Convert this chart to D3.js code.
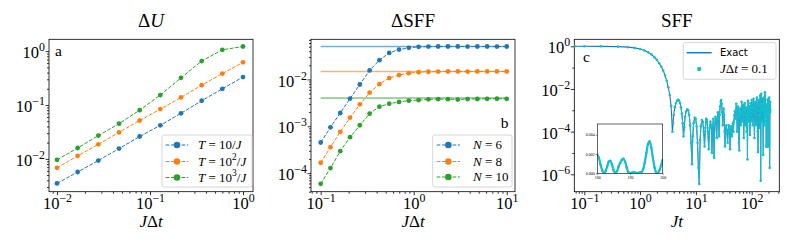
<!DOCTYPE html>
<html>
<head>
<meta charset="utf-8">
<script src="https://cdn.jsdelivr.net/npm/d3@7"></script>
<style>
	body { margin: 0; background: #fff; }
	svg { display: block; font-family: "Liberation Serif", "DejaVu Serif", serif; }
</style>
</head>
<body>
<svg id="chart"></svg>
<script>
// ---- panel a : dU vs J dt ----
const dtA = [0.01, 0.01668, 0.02783, 0.04642, 0.07743, 0.1292, 0.2154, 0.3594, 0.5995, 1.0];
const dU_T10 = [0.0035, 0.0057, 0.0093, 0.0155, 0.026, 0.042, 0.070, 0.12, 0.20, 0.33];
const dU_T100 = [0.0068, 0.0114, 0.0186, 0.031, 0.0515, 0.084, 0.138, 0.233, 0.383, 0.62];
const dU_T1000 = [0.0096, 0.0159, 0.027, 0.045, 0.080, 0.153, 0.32, 0.655, 1.06, 1.22];

// ---- panel b : dSFF vs J dt ----
const dtB = [0.1, 0.1274, 0.1624, 0.2069, 0.2637, 0.336, 0.4281, 0.5456, 0.6952, 0.8859,
	1.1288, 1.4384, 1.833, 2.336, 2.976, 3.793, 4.833, 6.158, 7.848, 10];
const dS_N6 = [4.5e-4, 9.5e-4, 1.92e-3, 3.9e-3, 7.8e-3, 0.0156, 0.0258, 0.0369, 0.0435, 0.0472,
	0.0496, 0.0503, 0.0505, 0.0505, 0.0505, 0.0504, 0.0505, 0.0505, 0.0504, 0.0505];
const dS_N8 = [1.66e-4, 3.57e-4, 7.6e-4, 1.53e-3, 2.94e-3, 5.2e-3, 7.96e-3, 0.0107, 0.0124, 0.0136,
	0.0143, 0.0146, 0.0147, 0.0148, 0.0148, 0.0147, 0.0148, 0.0148, 0.0148, 0.0148];
const dS_N10 = [5.9e-5, 1.28e-4, 2.94e-4, 5.83e-4, 1.05e-3, 1.86e-3, 2.62e-3, 3.03e-3, 3.3e-3, 3.52e-3,
	3.63e-3, 3.75e-3, 3.8e-3, 3.78e-3, 3.72e-3, 3.8e-3, 3.82e-3, 3.85e-3, 3.88e-3, 3.85e-3];
const dS_sat = [0.0505, 0.0148, 0.0040];

// ---- panel c : SFF vs Jt ----
const sffT = [0.067, 0.1, 0.2, 0.4, 0.6, 0.8, 1.0, 1.2, 1.4, 1.6, 1.8, 2.0, 2.2, 2.4, 2.6, 2.8, 3.0, 3.2, 3.4, 3.6, 3.8,
	3.9, 4.0, 4.2, 4.4, 4.6, 4.8, 5.0, 5.2, 5.4, 5.6, 5.8, 6.0, 6.2, 6.4, 6.7, 7.0, 7.3, 7.6, 7.9, 8.2, 8.5, 8.8,
	9.1, 9.5, 9.9, 10.3, 10.7, 11.1, 11.5, 11.9, 12.3, 12.8, 13.3, 13.8, 14.3, 14.8, 15.3, 15.8, 16.4, 17.0,
	17.6, 18.2, 18.8, 19.4, 20.0, 20.6, 21.2, 21.8, 22.4, 23.0, 23.6, 24.2, 24.8, 25.4, 26.0, 26.6, 27.2,
	27.8, 28.4, 29.0, 29.6, 30.2, 30.8, 31.4, 32.0, 32.6, 33.2, 33.8, 34.5, 35.2, 36, 37, 38, 39, 40, 41,
	42, 43, 44, 45, 46, 47, 48, 49, 50, 51, 52, 53, 54, 55, 56, 57, 58, 59, 60, 61, 62, 63, 64, 65, 66,
	67, 68, 69, 70, 71, 72, 73, 74, 75, 76, 77, 78, 79, 80, 81, 82, 83, 84, 85, 86, 87, 88, 89, 90, 91,
	92, 93, 94, 95, 96, 97, 98, 99, 100, 102, 104, 106, 108, 110, 112, 114, 116, 118, 120, 122, 124, 126,
	128, 130, 132, 134, 136, 138, 140, 142, 144, 145, 147, 149, 151, 153, 155, 157, 159, 161, 163, 165,
	167, 169, 171, 173, 175, 177, 178.5];
const sffV = [1.0, 0.998, 0.99, 0.96, 0.91, 0.84, 0.74, 0.63, 0.52, 0.41, 0.31, 0.23, 0.16, 0.11, 0.072, 0.043,
	0.024, 0.012, 0.0052, 0.0016, 0.0001,
	2.5e-4, 6e-4, 1.4e-3, 2.2e-3, 2.8e-3, 3.1e-3, 2.9e-3, 2.2e-3, 1.4e-3, 7e-4, 2.5e-4, 6e-5, 1.6e-4, 5e-4,
	9e-4, 1.1e-3, 1.0e-3, 6e-4, 2e-4, 3e-5, 3e-6, 6e-5, 2.5e-4, 4.5e-4, 4e-4, 1.8e-4, 3e-5, 2e-6, 3.5e-7,
	4e-5, 1.8e-4, 3.5e-4, 3e-4, 1e-4, 2e-5, 1.5e-4, 4e-4, 3.5e-4, 1e-4, 1.5e-5, 1.5e-4, 3e-4, 2e-4, 1e-5,
	2e-4, 4e-4, 6e-6, 2e-4, 5e-4, 3e-4, 5e-5, 4e-4, 8e-4, 4e-4, 6e-5, 6e-4, 1.5e-3, 2.5e-3, 3e-3, 2e-3,
	8e-4, 2e-4, 6e-4, 1.2e-3, 6e-4, 1e-4, 2e-5, 8e-5, 1.5e-4, 2e-4, 1e-4, 3e-5, 1.2e-4, 2e-4, 1.5e-4,
	1.5e-5, 1e-4, 1.8e-4, 6e-5, 1.5e-4, 2.5e-4, 1e-4, 3e-4, 6e-4, 9e-4,
	4e-4, 1e-3, 2e-3, 8e-4, 1e-4, 6e-4, 1.5e-3, 5e-4, 3e-5, 1.3e-5, 5e-4, 1.2e-3, 8e-4, 2e-4, 7e-4,
	2.5e-3, 1.5e-3, 3e-4, 8e-4, 1.8e-3, 6e-4, 5e-5, 4e-4, 1.1e-3, 2.2e-3, 9e-4, 2e-4, 6e-4, 1.4e-3,
	5e-4, 1e-4, 2e-4, 1.2e-3, 5e-6, 8e-4, 2.8e-3, 1.4e-3, 3e-4, 9e-4, 1.6e-3, 9e-4, 4e-4, 7e-5, 1e-3,
	2.2e-3, 1e-3, 6e-4, 3e-4, 1.3e-3, 3e-3,
	1.2e-3, 2e-4, 1.5e-3, 3.5e-3, 8e-4, 5e-5, 1.2e-3, 2.5e-3, 6e-4, 2e-4, 2e-3, 4e-3, 1e-3, 1e-4, 1.1e-5,
	1.5e-3, 3e-3, 6e-4, 1.5e-4, 2e-3, 5e-3, 1e-3, 5e-7, 1.2e-3, 6e-3, 2e-3, 3e-4, 1.5e-3, 3.5e-3, 1e-3,
	8e-6, 1.2e-3, 4e-3, 2e-3, 2e-4, 2.5e-3, 7e-3, 3e-3, 5e-4, 1.2e-3];
// late times, also shown in the inset (linear scale)
const insetT = [180, 180.5, 181, 181.5, 182, 182.5, 183, 183.5, 184, 184.5, 185, 185.5, 186, 186.5, 187,
	187.5, 188, 188.5, 189, 189.5, 190, 190.5, 191, 191.5, 192, 192.5, 193, 193.5, 194, 194.5, 195, 195.5,
	196, 196.5, 197, 197.5, 198, 198.5, 199, 199.5, 200];
const insetV = [0.0019, 0.0016, 0.0009, 0.0003, 0.00002, 0.0002, 0.0007, 0.0012, 0.0013, 0.0009, 0.0003,
	0.00002, 0.0002, 0.0007, 0.0011, 0.0014, 0.0015, 0.0012, 0.0006, 0.0001, 0.00002, 0.00005, 0.0001,
	0.00008, 0.00003, 0.00004, 0.0001, 0.0001, 0.0004, 0.0011, 0.0021, 0.0030, 0.0033, 0.0027, 0.0016,
	0.0006, 0.0001, 0.00002, 0.0003, 0.0008, 0.0014];
const tailT = [202, 204, 206, 208, 210, 212, 214, 216];
const tailV = [3e-4, 2e-3, 4e-3, 1.5e-3, 2e-6, 8e-4, 2.5e-3, 1e-3];

const xTickExpA = [-2, -1, 0], yTickExpA = [-2, -1, 0];
const xTickExpB = [-1, 0, 1], yTickExpB = [-4, -3, -2];
const xTickExpC = [-1, 0, 1, 2], yTickExpC = [-6, -4, -2, 0];
const insetXTicks = [180, 190, 200], insetYTicks = [0, 0.002, 0.004];

const blue = '#1f77b4', orange = '#ff7f0e', green = '#2ca02c', cyan = '#17becf';
const FS = 16.5;  // tick labels
const LFS = 13;   // legend text
const serif = '"Liberation Serif", "DejaVu Serif", serif';

let w = 789, h = 247;
let chart = d3.select('#chart').attr('width', w).attr('height', h);

// text made of plain / italic / superscript pieces
function richText(sel, parts, size) {
	let raised = false;
	parts.forEach(p => {
		let ts = sel.append('tspan').text(p.t);
		if (p.i) ts.attr('font-style', 'italic');
		if (p.sup) {
			ts.attr('font-size', size * 0.72).attr('dy', -size * 0.42);
			raised = true;
		} else if (raised) {
			ts.attr('dy', size * 0.42);
			raised = false;
		}
	});
}

function minorTicks(domain) {
	let out = [];
	let lo = Math.floor(Math.log10(domain[0])), hi = Math.ceil(Math.log10(domain[1]));
	for (let k = lo; k <= hi; k++)
		for (let m = 2; m <= 9; m++) {
			let v = m * Math.pow(10, k);
			if (v >= domain[0] && v <= domain[1]) out.push(v);
		}
	return out;
}

// replace tick text with 10^n
function supTicks(texts) {
	texts.each(function (d) {
		let t = d3.select(this).text('')
			.attr('font-family', serif).attr('font-size', FS).attr('fill', '#000');
		let e = Math.round(Math.log10(d));
		richText(t, [{ t: '10' }, { t: e < 0 ? '\u2212' + (-e) : '' + e, sup: true }], FS);
	});
}

function styleAxis(a) {
	a.select('.domain').remove();
	a.selectAll('line').attr('stroke', '#000').attr('stroke-width', 0.8);
}

// frame, log axes, title and x label for a panel
function makePanel(p) {
	let g = chart.append('g');
	let x = d3.scaleLog().domain(p.xd).range([p.l, p.r]);
	let y = d3.scaleLog().domain(p.yd).range([p.b, p.t]);

	g.append('g').attr('transform', `translate(0,${p.b})`)
		.call(d3.axisBottom(x).tickValues(p.xMinor || minorTicks(p.xd)).tickSize(2).tickFormat(''))
		.call(styleAxis);
	g.append('g').attr('transform', `translate(${p.l},0)`)
		.call(d3.axisLeft(y).tickValues(p.yMinor || minorTicks(p.yd)).tickSize(2).tickFormat(''))
		.call(styleAxis);

	let xa = g.append('g').attr('transform', `translate(0,${p.b})`)
		.call(d3.axisBottom(x).tickValues(p.xExp.map(e => Math.pow(10, e))).tickSize(3.5).tickPadding(2))
		.call(styleAxis);
	let ya = g.append('g').attr('transform', `translate(${p.l},0)`)
		.call(d3.axisLeft(y).tickValues(p.yExp.map(e => Math.pow(10, e))).tickSize(3.5).tickPadding(0.5))
		.call(styleAxis);
	[xa, ya].forEach(a => a.selectAll('.tick text').call(supTicks));
	ya.selectAll('.tick text').attr('dy', '0.4em');

	g.append('rect').attr('x', p.l).attr('y', p.t).attr('width', p.r - p.l).attr('height', p.b - p.t)
		.attr('fill', 'none').attr('stroke', '#000').attr('stroke-width', 0.8);

	let title = g.append('text').attr('x', (p.l + p.r) / 2).attr('y', 27)
		.attr('text-anchor', 'middle').attr('font-size', 19);
	richText(title, p.title, 19);
	let xl = g.append('text').attr('x', (p.l + p.r) / 2).attr('y', 227)
		.attr('text-anchor', 'middle').attr('font-size', 17);
	richText(xl, p.xlabel, 17);

	let clipId = 'clip' + p.name;
	chart.append('clipPath').attr('id', clipId).append('rect')
		.attr('x', p.l).attr('y', p.t).attr('width', p.r - p.l).attr('height', p.b - p.t);
	let plot = g.append('g').attr('clip-path', `url(#${clipId})`);
	return { g, plot, x, y };
}

function dashedSeries(P, xs, ys, color) {
	let pts = xs.map((d, i) => [d, ys[i]]);
	P.plot.append('path').datum(pts)
		.attr('d', d3.line().x(d => P.x(d[0])).y(d => P.y(d[1])))
		.attr('fill', 'none').attr('stroke', color).attr('stroke-width', 1).attr('stroke-dasharray', '3.7,1.6');
	P.plot.selectAll(null).data(pts).enter().append('circle')
		.attr('cx', d => P.x(d[0])).attr('cy', d => P.y(d[1])).attr('r', 2.4).attr('fill', color);
}

function legend(box, rows) {
	let lg = chart.append('g');
	lg.append('rect').attr('x', box.x).attr('y', box.y).attr('width', box.w).attr('height', box.h)
		.attr('rx', 2).attr('fill', '#fff').attr('fill-opacity', 0.8).attr('stroke', '#cccccc').attr('stroke-width', 0.8);
	rows.forEach(r => {
		if (r.kind !== 'dot') {
			lg.append('line').attr('x1', box.lx0).attr('x2', box.lx1).attr('y1', r.y).attr('y2', r.y)
				.attr('stroke', r.color).attr('stroke-width', r.kind === 'solid' ? 1.5 : 1)
				.attr('stroke-dasharray', r.kind === 'solid' ? null : '3.7,1.6');
		}
		if (r.kind !== 'solid') {
			lg.append('circle').attr('cx', (box.lx0 + box.lx1) / 2).attr('cy', r.y)
				.attr('r', r.kind === 'dot' ? 2.2 : 3.3).attr('fill', r.color);
		}
		let t = lg.append('text').attr('x', box.tx).attr('y', r.y + 4.3).attr('font-size', LFS);
		if (r.sans) t.attr('font-family', '"DejaVu Sans", sans-serif').attr('font-size', 10).attr('y', r.y + 3.7);
		richText(t, r.label, LFS);
	});
}

// ---------------- panel a ----------------
let A = makePanel({
	name: 'a', l: 49, r: 253, t: 39.3, b: 191.7,
	xd: [Math.pow(10, -2.086), Math.pow(10, 0.1075)], yd: [Math.pow(10, -2.61), Math.pow(10, 0.22)],
	xExp: xTickExpA, yExp: yTickExpA,
	title: [{ t: '\u0394' }, { t: 'U', i: true }],
	xlabel: [{ t: 'J', i: true }, { t: '\u0394' }, { t: 't', i: true }]
});
dashedSeries(A, dtA, dU_T10, blue);
dashedSeries(A, dtA, dU_T100, orange);
dashedSeries(A, dtA, dU_T1000, green);
chart.append('text').attr('x', 55).attr('y', 55.5).attr('font-size', 15.5).text('a');
legend({ x: 162, y: 135, w: 90, h: 52, lx0: 165.7, lx1: 188.3, tx: 198 }, [
	{ y: 145, color: blue, label: [{ t: 'T', i: true }, { t: ' = 10/' }, { t: 'J', i: true }] },
	{ y: 161.5, color: orange, label: [{ t: 'T', i: true }, { t: ' = 10' }, { t: '2', sup: true }, { t: '/' }, { t: 'J', i: true }] },
	{ y: 177.5, color: green, label: [{ t: 'T', i: true }, { t: ' = 10' }, { t: '3', sup: true }, { t: '/' }, { t: 'J', i: true }] }
]);

// ---------------- panel b ----------------
let B = makePanel({
	name: 'b', l: 311, r: 515, t: 39.3, b: 191.7,
	xd: [Math.pow(10, -1.104), Math.pow(10, 1.089)], yd: [Math.pow(10, -4.398), Math.pow(10, -1.143)],
	xExp: xTickExpB, yExp: yTickExpB,
	title: [{ t: '\u0394SFF' }],
	xlabel: [{ t: 'J', i: true }, { t: '\u0394' }, { t: 't', i: true }]
});
[blue, orange, green].forEach((c, i) => {
	B.plot.append('line').attr('x1', B.x(dtB[0])).attr('x2', B.x(dtB[dtB.length - 1]))
		.attr('y1', B.y(dS_sat[i])).attr('y2', B.y(dS_sat[i]))
		.attr('stroke', c).attr('stroke-width', 1.5).attr('stroke-opacity', 0.6);
});
dashedSeries(B, dtB, dS_N6, blue);
dashedSeries(B, dtB, dS_N8, orange);
dashedSeries(B, dtB, dS_N10, green);
chart.append('text').attr('x', 508.5).attr('y', 128).attr('text-anchor', 'end').attr('font-size', 15.5).text('b');
legend({ x: 432.7, y: 135, w: 79.3, h: 52, lx0: 436.7, lx1: 460, tx: 473 }, [
	{ y: 145, color: blue, label: [{ t: 'N', i: true }, { t: ' = 6' }] },
	{ y: 161.5, color: orange, label: [{ t: 'N', i: true }, { t: ' = 8' }] },
	{ y: 177, color: green, label: [{ t: 'N', i: true }, { t: ' = 10' }] }
]);

// ---------------- panel c ----------------
let C = makePanel({
	name: 'c', l: 574.3, r: 779.3, t: 39.3, b: 191.7,
	xd: [Math.pow(10, -1.179), Math.pow(10, 2.495)], yd: [Math.pow(10, -6.815), Math.pow(10, 0.327)],
	xExp: xTickExpC, yExp: yTickExpC, yMinor: [1e-5, 1e-3, 1e-1],
	title: [{ t: 'SFF' }],
	xlabel: [{ t: 'Jt', i: true }]
});
let sffAll = sffT.map((t, i) => [t, sffV[i]])
	.concat(insetT.map((t, i) => [t, insetV[i]]))
	.concat(tailT.map((t, i) => [t, tailV[i]]));
let sffLine = d3.line().x(d => C.x(d[0])).y(d => C.y(d[1]));
C.plot.append('path').datum(sffAll).attr('d', sffLine)
	.attr('fill', 'none').attr('stroke', blue).attr('stroke-width', 1.1);
// the J dt = 0.1 points are dense enough to read as a cyan trace
C.plot.append('path').datum(sffAll.filter(d => d[0] > 4)).attr('d', sffLine)
	.attr('fill', 'none').attr('stroke', cyan).attr('stroke-width', 1).attr('stroke-opacity', 0.85);
C.plot.selectAll(null).data(sffAll).enter().append('circle')
	.attr('cx', d => C.x(d[0])).attr('cy', d => C.y(d[1])).attr('r', 1.3).attr('fill', cyan);
chart.append('text').attr('x', 583).attr('y', 61.5).attr('font-size', 15.5).text('c');
legend({ x: 683.3, y: 42.7, w: 92.7, h: 36.6, lx0: 686.7, lx1: 711.7, tx: 720 }, [
	{ y: 52.7, color: blue, kind: 'solid', sans: true, label: [{ t: 'Exact' }] },
	{ y: 69, color: cyan, kind: 'dot', label: [{ t: 'J', i: true }, { t: '\u0394' }, { t: 't', i: true }, { t: ' = 0.1' }] }
]);

// inset, linear axes
let ib = { l: 597.3, r: 662.7, t: 124, b: 173.3 };
let ix = d3.scaleLinear().domain([180, 200]).range([ib.l, ib.r]);
let iy = d3.scaleLinear().domain([0, 0.0051]).range([ib.b, ib.t]);
let inset = chart.append('g');
inset.append('rect').attr('x', ib.l).attr('y', ib.t).attr('width', ib.r - ib.l).attr('height', ib.b - ib.t)
	.attr('fill', '#fff');
let ixa = inset.append('g').attr('transform', `translate(0,${ib.b})`)
	.call(d3.axisBottom(ix).tickValues(insetXTicks).tickSize(1.5).tickPadding(1).tickFormat(d3.format('d')));
let iya = inset.append('g').attr('transform', `translate(${ib.l},0)`)
	.call(d3.axisLeft(iy).tickValues(insetYTicks).tickSize(1.5).tickPadding(1).tickFormat(d3.format('.3f')));
[ixa, iya].forEach(a => {
	a.select('.domain').remove();
	a.selectAll('line').attr('stroke', '#000').attr('stroke-width', 0.5);
	a.selectAll('text').attr('fill', '#000').attr('font-family', serif).attr('font-size', 4);
});
chart.append('clipPath').attr('id', 'clipInset').append('rect')
	.attr('x', ib.l).attr('y', ib.t).attr('width', ib.r - ib.l).attr('height', ib.b - ib.t);
let iplot = inset.append('g').attr('clip-path', 'url(#clipInset)');
let insetPts = insetT.map((t, i) => [t, insetV[i]]);
let insetLine = d3.line().curve(d3.curveMonotoneX).x(d => ix(d[0])).y(d => iy(d[1]));
iplot.append('path').datum(insetPts).attr('d', insetLine)
	.attr('fill', 'none').attr('stroke', blue).attr('stroke-width', 1.2);
iplot.append('path').datum(insetPts).attr('d', insetLine)
	.attr('fill', 'none').attr('stroke', cyan).attr('stroke-width', 2.2);
iplot.selectAll(null).data(insetPts).enter().append('circle')
	.attr('cx', d => ix(d[0])).attr('cy', d => iy(d[1])).attr('r', 1.2).attr('fill', cyan);
inset.append('rect').attr('x', ib.l).attr('y', ib.t).attr('width', ib.r - ib.l).attr('height', ib.b - ib.t)
	.attr('fill', 'none').attr('stroke', '#000').attr('stroke-width', 0.6);
</script>
</body>
</html>
